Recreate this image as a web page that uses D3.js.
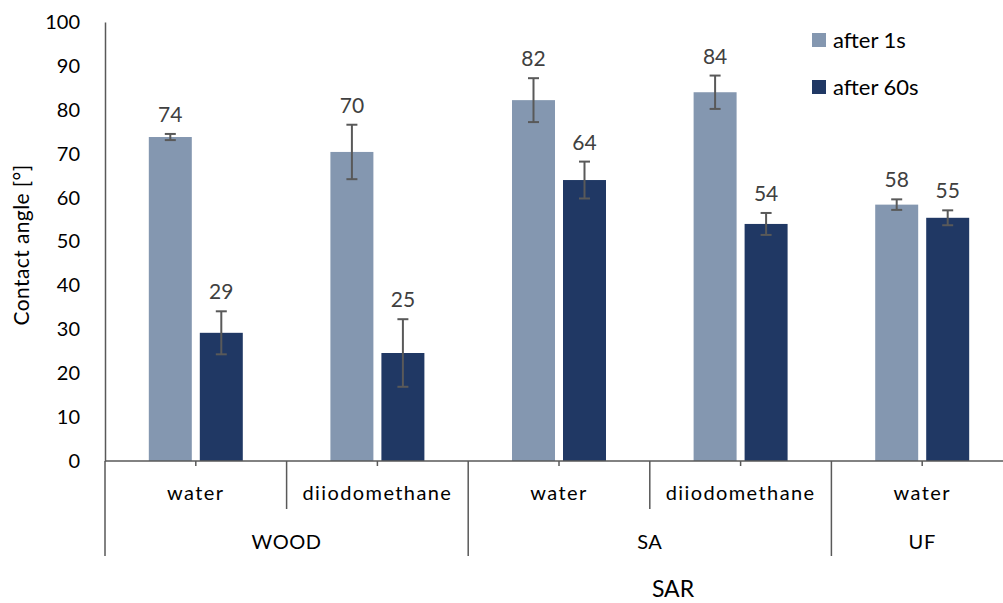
<!DOCTYPE html>
<html>
<head>
<meta charset="utf-8">
<script src="https://cdn.jsdelivr.net/npm/d3@7"></script>
<style>
  html, body { margin: 0; padding: 0; background: #fff; }
  svg { display: block; font-family: Lato, "Open Sans", sans-serif; }
</style>
</head>
<body>
<svg id="chart" width="1003" height="603"></svg>
<script>
// Category rows of the two-level axis
const liquids = ["water", "diiodomethane", "water", "diiodomethane", "water"];
const groups  = ["WOOD", "WOOD", "SA", "SA", "UF"];

// Series
const seriesNames = ["after 1s", "after 60s"];
const after1s     = [73.8, 70.4, 82.2, 84.0, 58.4];
const after60s    = [29.2, 24.6, 64.0, 54.0, 55.4];
const err1s       = [0.7, 6.2, 5.0, 3.8, 1.2];
const err60s      = [4.9, 7.7, 4.2, 2.5, 1.7];

const yTicks = [0, 10, 20, 30, 40, 50, 60, 70, 80, 90, 100];

const colors = ["#8497B0", "#203864"];
const axisColor = "#595959";

const svg = d3.select("#chart");
const plotLeft = 105, plotRight = 1013, plotTop = 22, plotBottom = 461;

const catIdx = liquids.map((_, i) => i);
const x0 = d3.scaleBand().domain(catIdx).range([plotLeft, plotRight]).padding(0);
const x1 = d3.scaleBand().domain(seriesNames).range([0, x0.bandwidth()])
  .paddingInner(0.157).paddingOuter(0.859);
const y = d3.scaleLinear().domain([0, 100]).range([plotBottom, plotTop]);

// Y axis: labels only, plus the vertical line
const yAxis = svg.append("g").attr("transform", `translate(${plotLeft},0)`)
  .call(d3.axisLeft(y).tickValues(yTicks).tickSize(0).tickPadding(25));
yAxis.select(".domain").attr("stroke", axisColor).attr("stroke-width", 1.5);
yAxis.selectAll("text").attr("font-size", 20).attr("fill", "#000")
  .attr("font-family", "Lato, 'Open Sans', sans-serif");

// Bars
const rows = catIdx.map(i => ({
  i,
  vals: [
    { s: seriesNames[0], v: after1s[i], e: err1s[i], c: colors[0] },
    { s: seriesNames[1], v: after60s[i], e: err60s[i], c: colors[1] }
  ]
}));

const gCat = svg.append("g").selectAll("g").data(rows).join("g")
  .attr("transform", d => `translate(${x0(d.i)},0)`);

gCat.selectAll("rect").data(d => d.vals).join("rect")
  .attr("x", d => x1(d.s))
  .attr("y", d => y(d.v))
  .attr("width", x1.bandwidth())
  .attr("height", d => y(0) - y(d.v))
  .attr("fill", d => d.c);

// Error bars
const eb = gCat.selectAll("g.err").data(d => d.vals).join("g").attr("class", "err")
  .attr("stroke", axisColor).attr("stroke-width", 2);
const cx = d => x1(d.s) + x1.bandwidth() / 2;
eb.append("line").attr("x1", cx).attr("x2", cx)
  .attr("y1", d => y(d.v + d.e)).attr("y2", d => y(d.v - d.e));
eb.append("line").attr("x1", d => cx(d) - 5.5).attr("x2", d => cx(d) + 5.5)
  .attr("y1", d => y(d.v + d.e)).attr("y2", d => y(d.v + d.e));
eb.append("line").attr("x1", d => cx(d) - 5.5).attr("x2", d => cx(d) + 5.5)
  .attr("y1", d => y(d.v - d.e)).attr("y2", d => y(d.v - d.e));

// Value labels
gCat.selectAll("text.val").data(d => d.vals).join("text").attr("class", "val")
  .attr("x", cx)
  .attr("y", d => y(d.v + d.e) - 12)
  .attr("text-anchor", "middle")
  .attr("font-size", 21)
  .attr("fill", "#404040")
  .text(d => d3.format(".0f")(d.v));

// X axis baseline
svg.append("line").attr("x1", plotLeft).attr("x2", plotRight).attr("y1", plotBottom).attr("y2", plotBottom)
  .attr("stroke", axisColor).attr("stroke-width", 1.5);

// Small ticks at category centres
svg.append("g").selectAll("line").data(catIdx).join("line")
  .attr("x1", i => x0(i) + x0.bandwidth() / 2).attr("x2", i => x0(i) + x0.bandwidth() / 2)
  .attr("y1", plotBottom).attr("y2", plotBottom + 5)
  .attr("stroke", axisColor).attr("stroke-width", 1.5);

// Separators: short between liquids, long between groups
const sepShort = 509, sepLong = 556;
const bounds = d3.range(0, catIdx.length + 1);
svg.append("g").selectAll("line").data(bounds).join("line")
  .attr("x1", b => x0.step() * b + plotLeft).attr("x2", b => x0.step() * b + plotLeft)
  .attr("y1", plotBottom)
  .attr("y2", b => (b === 0 || b === catIdx.length || groups[b] !== groups[b - 1]) ? sepLong : sepShort)
  .attr("stroke", axisColor).attr("stroke-width", 1.5);

// Liquid labels
svg.append("g").selectAll("text").data(catIdx).join("text")
  .attr("x", i => x0(i) + x0.bandwidth() / 2)
  .attr("y", 500)
  .attr("text-anchor", "middle")
  .attr("font-size", 20).attr("fill", "#000")
  .attr("letter-spacing", 1.4)
  .text(i => liquids[i]);

// Group labels
const groupNames = Array.from(new Set(groups));
svg.append("g").selectAll("text").data(groupNames).join("text")
  .attr("x", g => {
    const idx = catIdx.filter(i => groups[i] === g);
    return (x0(idx[0]) + x0(idx[idx.length - 1]) + x0.bandwidth()) / 2;
  })
  .attr("y", 549)
  .attr("text-anchor", "middle")
  .attr("font-size", 20).attr("fill", "#000")
  .attr("letter-spacing", 0.6)
  .text(g => g);

// Axis titles
svg.append("text")
  .attr("transform", "translate(29,245) rotate(-90)")
  .attr("text-anchor", "middle")
  .attr("font-size", 21).attr("fill", "#000")
  .attr("letter-spacing", 0.4)
  .text("Contact angle [°]");

svg.append("text")
  .attr("x", 673).attr("y", 597)
  .attr("text-anchor", "middle")
  .attr("font-size", 23).attr("fill", "#000")
  .text("SAR");

// Legend
const legend = svg.append("g").selectAll("g").data(seriesNames).join("g")
  .attr("transform", (d, i) => `translate(812,${33 + i * 47})`);
legend.append("rect").attr("width", 14).attr("height", 14).attr("fill", (d, i) => colors[i]);
legend.append("text").attr("x", 21).attr("y", 15)
  .attr("font-size", 22).attr("fill", "#000").text(d => d);
</script>
</body>
</html>
